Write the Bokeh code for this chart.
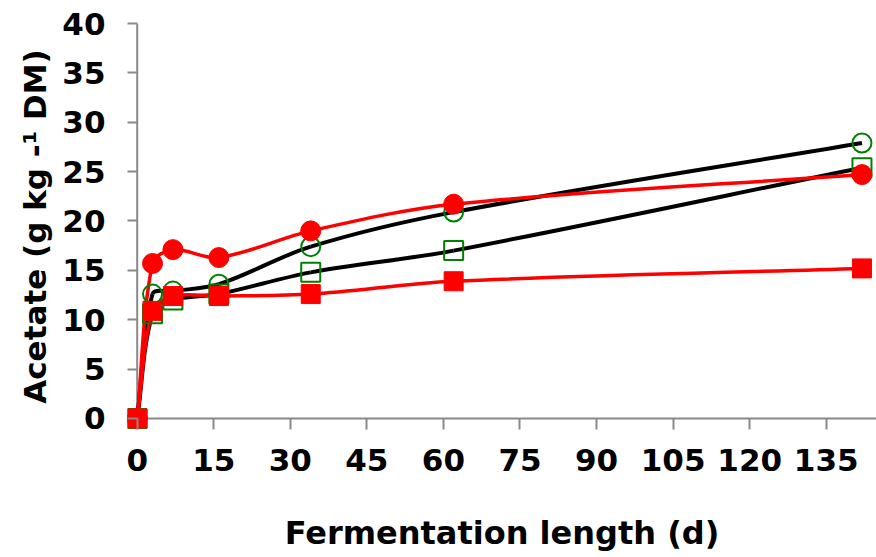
import math

from bokeh.plotting import figure
from bokeh.models import Range1d, FixedTicker, Span
from bokeh.embed import file_html
from bokeh.resources import INLINE

# Acetate content (g/kg DM) over fermentation length (days)
days = [0, 3, 7, 16, 34, 62, 142]
open_circle = [0, 12.6, 12.9, 13.6, 17.4, 20.9, 27.9]
open_square = [0, 10.6, 12.0, 12.6, 14.8, 17.0, 25.4]
filled_circle = [0, 15.7, 17.1, 16.3, 19.0, 21.7, 24.7]
filled_square = [0, 10.9, 12.4, 12.4, 12.6, 13.9, 15.2]

x_ticks = [0, 15, 30, 45, 60, 75, 90, 105, 120, 135]
y_ticks = [0, 5, 10, 15, 20, 25, 30, 35, 40]

AXIS_GREY = "#898989"
FONT = "DejaVu Sans"

# approximate pixels per data unit, used only to weigh chord lengths
PX_PER_DAY = 5.104
PX_PER_UNIT = 9.875


def smooth_segments(xs, ys):
    """Cubic Bezier pieces joining consecutive points, with tangents
    weighted by chord length so short hops do not overshoot."""
    n = len(xs)

    def dist(i, j):
        return math.hypot((xs[j] - xs[i]) * PX_PER_DAY, (ys[j] - ys[i]) * PX_PER_UNIT)

    out = {k: [] for k in ("x0", "y0", "x1", "y1", "cx0", "cy0", "cx1", "cy1")}
    for i in range(n - 1):
        a = max(i - 1, 0)
        d = min(i + 2, n - 1)
        d_prev, d_cur, d_next = dist(a, i), dist(i, i + 1), dist(i + 1, d)
        k0 = 2 * d_cur / (d_prev + d_cur)
        k1 = 2 * d_cur / (d_cur + d_next)
        out["x0"].append(xs[i])
        out["y0"].append(ys[i])
        out["x1"].append(xs[i + 1])
        out["y1"].append(ys[i + 1])
        out["cx0"].append(xs[i] + k0 * (xs[i + 1] - xs[a]) / 6)
        out["cy0"].append(ys[i] + k0 * (ys[i + 1] - ys[a]) / 6)
        out["cx1"].append(xs[i + 1] - k1 * (xs[d] - xs[i]) / 6)
        out["cy1"].append(ys[i + 1] - k1 * (ys[d] - ys[i]) / 6)
    return out


p = figure(
    width=876, height=557,
    output_backend="svg", toolbar_location=None,
    x_range=Range1d(-1.9, 144.85), y_range=Range1d(-1.114, 40),
    min_border_left=127, min_border_right=0,
    min_border_top=23, min_border_bottom=128,
)
p.outline_line_color = None
p.grid.visible = False
p.background_fill_color = "white"
p.border_fill_color = "white"

# axis lines drawn through the origin
p.add_layout(Span(location=0, dimension="height", line_color=AXIS_GREY,
                  line_width=2, level="underlay"))
p.add_layout(Span(location=0, dimension="width", line_color=AXIS_GREY,
                  line_width=2, level="underlay"))

p.xaxis.ticker = FixedTicker(ticks=x_ticks)
p.yaxis.ticker = FixedTicker(ticks=y_ticks)

for ax in (p.xaxis[0], p.yaxis[0]):
    ax.axis_line_color = None
    ax.major_tick_line_color = AXIS_GREY
    ax.major_tick_line_width = 2
    ax.minor_tick_line_color = None
    ax.major_tick_out = 0
    ax.major_label_text_font = FONT
    ax.major_label_text_font_style = "bold"
    ax.major_label_text_font_size = "31px"
    ax.major_label_text_color = "black"
    ax.axis_label_text_font = FONT
    ax.axis_label_text_font_style = "bold"
    ax.axis_label_text_color = "black"

p.yaxis.axis_label_text_font_size = "31px"
p.xaxis.axis_label_text_font_size = "32px"
p.yaxis.major_tick_in = 10
p.xaxis.major_tick_in = 11
p.yaxis.major_label_standoff = 22
p.xaxis.major_label_standoff = 19
p.yaxis.axis_label = "Acetate (g kg -\u00b9 DM)"
p.xaxis.axis_label = "Fermentation length (d)"
p.yaxis.axis_label_standoff = 6
p.xaxis.axis_label_standoff = 40

# smoothed connecting lines
p.bezier(line_color="black", line_width=4, **smooth_segments(days, open_circle))
p.bezier(line_color="black", line_width=4, **smooth_segments(days, open_square))
p.bezier(line_color="red", line_width=3.5, **smooth_segments(days, filled_circle))
p.bezier(line_color="red", line_width=3.5, **smooth_segments(days, filled_square))

# markers
p.scatter(days, open_circle, marker="circle", size=19, fill_color=None,
          line_color="green", line_width=2)
p.scatter(days, open_square, marker="square", size=19, fill_color=None,
          line_color="green", line_width=2)
p.scatter(days, filled_circle, marker="circle", size=20, fill_color="red",
          line_color="red", line_width=1)
p.scatter(days, filled_square, marker="square", size=19, fill_color="red",
          line_color="red", line_width=1)

open("out.html", "w").write(file_html(p, INLINE))
